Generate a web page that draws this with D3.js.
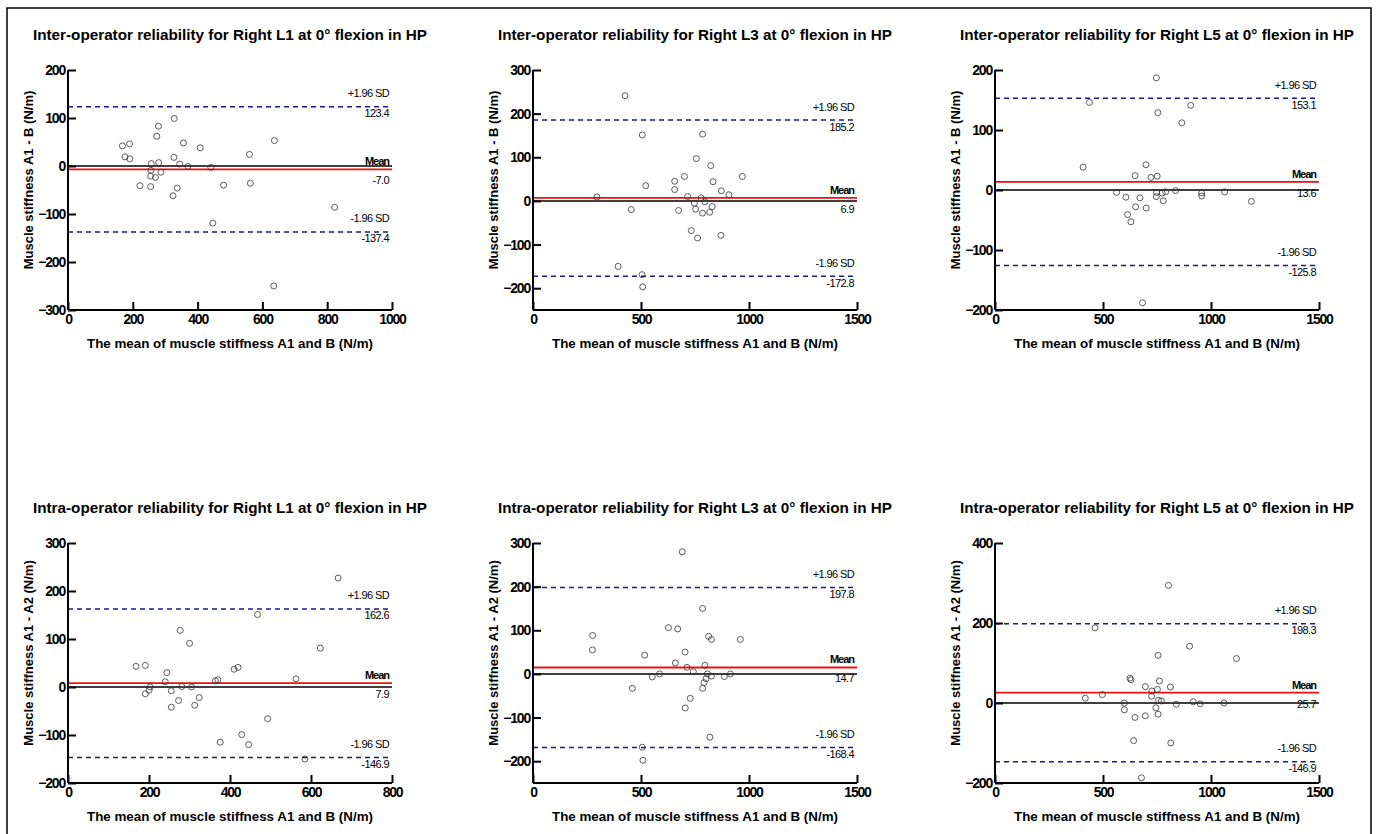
<!DOCTYPE html>
<html>
<head>
<meta charset="utf-8">
<script src="https://cdn.jsdelivr.net/npm/d3@7"></script>
<style>
  body { margin: 0; background: #fff; }
  text { font-family: "Liberation Sans", Arial, sans-serif; }
</style>
</head>
<body>
<div id="chart"></div>
<script>
// ---- data ----
const panelTitles = [
    "Inter-operator reliability for Right L1 at 0\u00b0 flexion in HP",
    "Inter-operator reliability for Right L3 at 0\u00b0 flexion in HP",
    "Inter-operator reliability for Right L5 at 0\u00b0 flexion in HP",
    "Intra-operator reliability for Right L1 at 0\u00b0 flexion in HP",
    "Intra-operator reliability for Right L3 at 0\u00b0 flexion in HP",
    "Intra-operator reliability for Right L5 at 0\u00b0 flexion in HP"
];
const yTitles = [
    "Muscle stiffness A1 - B (N/m)", "Muscle stiffness A1 - B (N/m)", "Muscle stiffness A1 - B (N/m)",
    "Muscle stiffness A1 - A2 (N/m)", "Muscle stiffness A1 - A2 (N/m)", "Muscle stiffness A1 - A2 (N/m)"
];
const xTitle = "The mean of muscle stiffness A1 and B  (N/m)";

const xDomains = [[0, 1000], [0, 1500], [0, 1500], [0, 800], [0, 1500], [0, 1500]];
const xTicks = [[0, 200, 400, 600, 800, 1000], [0, 500, 1000, 1500], [0, 500, 1000, 1500],
                [0, 200, 400, 600, 800], [0, 500, 1000, 1500], [0, 500, 1000, 1500]];
const yDomains = [[-300, 200], [-250, 300], [-200, 200], [-200, 300], [-250, 300], [-200, 400]];
const yTicks = [[-300, -200, -100, 0, 100, 200], [-200, -100, 0, 100, 200, 300], [-200, -100, 0, 100, 200],
                [-200, -100, 0, 100, 200, 300], [-200, -100, 0, 100, 200, 300], [-200, 0, 200, 400]];

const meanDiff = [-7.0, 6.9, 13.6, 7.9, 14.7, 25.7];
const upperLoA = [123.4, 185.2, 153.1, 162.6, 197.8, 198.3];
const lowerLoA = [-137.4, -172.8, -125.8, -146.9, -168.4, -146.9];

// inter-operator L1
const interL1Mean = [168, 190, 176, 191, 222, 257, 256, 255, 255, 270, 274, 279, 280, 287, 328,
                     327, 324, 337, 345, 356, 370, 408, 441, 447, 480, 560, 563, 637, 635, 823];
const interL1Diff = [42, 46, 19, 15, -41, 5, -9, -21, -43, -24, 62, 83, 7, -13, 99,
                     18, -62, -46, 4, 48, -1, 38, -3, -119, -40, 24, -36, 53, -250, -86];
// inter-operator L3
const interL3Mean = [426, 296, 506, 522, 455, 394, 505, 508, 656, 656, 701, 674, 716, 733, 747,
                     756, 753, 762, 778, 785, 785, 796, 818, 823, 829, 833, 870, 872, 907, 969];
const interL3Diff = [241, 9, 151, 35, -20, -150, -169, -197, 45, 26, 56, -22, 10, -68, -5,
                     97, -19, -85, 7, 153, -28, -2, -26, 81, -13, 44, -79, 23, 14, 56];
// inter-operator L5
const interL5Mean = [408, 437, 563, 606, 614, 629, 649, 651, 671, 699, 700, 683, 722, 747,
                     751, 754, 747, 748, 774, 779, 790, 836, 865, 906, 957, 957, 1063, 1187];
const interL5Diff = [38, 146, -4, -12, -41, -53, 24, -28, -13, 42, -30, -188, 21, 187,
                     23, 129, -11, -4, -5, -18, -3, -1, 112, 141, -10, -5, -3, -19];
// intra-operator L1
const intraL1Mean = [168, 191, 191, 200, 203, 244, 240, 255, 255, 273, 277, 281, 300, 305, 313,
                     324, 364, 370, 376, 410, 420, 429, 446, 468, 493, 563, 585, 623, 667];
const intraL1Diff = [43, 45, -14, -7, 0, 30, 11, -8, -42, -28, 118, 1, 91, 0, -38,
                     -22, 13, 15, -115, 37, 41, -99, -120, 151, -66, 17, -150, 81, 227];
// intra-operator L3
const intraL3Mean = [276, 275, 460, 506, 509, 517, 552, 586, 627, 659, 670, 691, 704, 705, 713,
                     728, 742, 785, 785, 792, 796, 801, 807, 813, 826, 826, 819, 886, 914, 960];
const intraL3Diff = [88, 55, -33, -168, -198, 43, -7, 0, 106, 25, 103, 280, 50, -78, 15,
                     -56, 5, 150, -33, -20, 20, -11, 0, 86, 79, -5, -145, -6, 0, 79];
// intra-operator L5
const intraL5Mean = [418, 463, 497, 599, 599, 625, 630, 642, 648, 678, 696, 696, 726, 725, 745,
                     755, 752, 761, 757, 755, 770, 803, 812, 814, 839, 901, 918, 950, 1060, 1118];
const intraL5Diff = [12, 188, 21, 0, -17, 62, 58, -94, -36, -187, 41, -32, 30, 17, -12,
                     119, 34, 55, 7, -28, 5, 294, 40, -100, -3, 142, 3, -2, 0, 111];

const pointMeans = [interL1Mean, interL3Mean, interL5Mean, intraL1Mean, intraL3Mean, intraL5Mean];
const pointDiffs = [interL1Diff, interL3Diff, interL5Diff, intraL1Diff, intraL3Diff, intraL5Diff];

// ---- layout ----
const width = 1376, height = 834;
const colLefts = [68, 533, 995];
const rowTops = [70, 543];
const plotW = 324, plotH = 240;

const svg = d3.select("#chart").append("svg")
    .attr("width", width)
    .attr("height", height);

// outer frame
svg.append("rect")
    .attr("x", 7).attr("y", 8)
    .attr("width", 1364).attr("height", 900)
    .attr("fill", "none")
    .attr("stroke", "#000")
    .attr("stroke-width", 1.5);

function drawPanel(i) {
    const left = colLefts[i % 3];
    const top = rowTops[Math.floor(i / 3)];
    const g = svg.append("g").attr("transform", "translate(" + left + "," + top + ")");

    const xScale = d3.scaleLinear().domain(xDomains[i]).range([0, plotW]);
    const yScale = d3.scaleLinear().domain(yDomains[i]).range([plotH, 0]);

    // title
    g.append("text")
        .attr("x", plotW / 2).attr("y", -30)
        .attr("text-anchor", "middle")
        .attr("font-size", 15).attr("font-weight", "bold")
        .attr("textLength", 394).attr("lengthAdjust", "spacingAndGlyphs")
        .text(panelTitles[i]);

    // reference lines (zero, mean, limits of agreement)
    const lines = g.append("g");
    lines.append("line")
        .attr("x1", 0).attr("x2", plotW)
        .attr("y1", yScale(0)).attr("y2", yScale(0))
        .attr("stroke", "#000").attr("stroke-width", 1.5);
    lines.append("line")
        .attr("x1", 0).attr("x2", plotW)
        .attr("y1", yScale(meanDiff[i])).attr("y2", yScale(meanDiff[i]))
        .attr("stroke", "#ee1111").attr("stroke-width", 1.8);
    [upperLoA[i], lowerLoA[i]].forEach(v => {
        lines.append("line")
            .attr("x1", 0).attr("x2", plotW)
            .attr("y1", yScale(v)).attr("y2", yScale(v))
            .attr("stroke", "#1a1a8c").attr("stroke-width", 1.5)
            .attr("stroke-dasharray", "5,4");
    });

    // annotations
    const ann = g.append("g")
        .attr("text-anchor", "end")
        .attr("font-size", 11);
    const ax = plotW - 3;
    const addNote = (y, txt, bold) => {
        ann.append("text")
            .attr("x", ax).attr("y", y)
            .attr("dy", "0.36em")
            .attr("font-weight", bold ? "bold" : "normal")
            .attr("letter-spacing", bold ? -1 : -0.6)
            .text(txt);
    };
    addNote(yScale(upperLoA[i]) - 13.5, "+1.96 SD");
    addNote(yScale(upperLoA[i]) + 6.5, upperLoA[i].toFixed(1));
    addNote(yScale(meanDiff[i]) - 8, "Mean", true);
    addNote(yScale(meanDiff[i]) + 11, meanDiff[i].toFixed(1));
    addNote(yScale(lowerLoA[i]) - 13.5, "-1.96 SD");
    addNote(yScale(lowerLoA[i]) + 6.5, lowerLoA[i].toFixed(1));

    // points
    const pts = d3.zip(pointMeans[i], pointDiffs[i]);
    g.append("g").selectAll("circle")
        .data(pts)
        .join("circle")
        .attr("cx", d => xScale(d[0]))
        .attr("cy", d => yScale(d[1]))
        .attr("r", 3)
        .attr("fill", "none")
        .attr("stroke", "#333")
        .attr("stroke-width", 0.8);

    // axes with inward ticks
    const xAxisG = g.append("g")
        .attr("transform", "translate(0," + plotH + ")")
        .call(d3.axisBottom(xScale).tickValues(xTicks[i]).tickSize(-8).tickPadding(4).tickFormat(d3.format("d")));
    const yAxisG = g.append("g")
        .call(d3.axisLeft(yScale).tickValues(yTicks[i]).tickSize(-8).tickPadding(3).tickFormat(d3.format("d")));

    [xAxisG, yAxisG].forEach(a => {
        a.select(".domain").attr("stroke", "#000").attr("stroke-width", 2);
        a.selectAll(".tick line").attr("stroke", "#000").attr("stroke-width", 2);
        a.selectAll(".tick text")
            .attr("fill", "#000")
            .attr("font-size", 14)
            .attr("font-weight", "bold")
            .attr("letter-spacing", -1.2)
            .style("font-family", "'Liberation Sans', Arial, sans-serif");
    });
    xAxisG.selectAll(".tick text").attr("y", 4).attr("dy", "0.71em");
    yAxisG.selectAll(".tick text").attr("x", -3);
    // plain domain lines without outer tick stubs
    xAxisG.select(".domain").attr("d", "M0,0H" + plotW);
    yAxisG.select(".domain").attr("d", "M0,0V" + plotH);

    // axis titles
    g.append("text")
        .attr("x", plotW / 2).attr("y", plotH + 33)
        .attr("dy", "0.36em")
        .attr("text-anchor", "middle")
        .attr("font-size", 13).attr("font-weight", "bold")
        .attr("textLength", 286).attr("lengthAdjust", "spacingAndGlyphs")
        .text(xTitle);
    g.append("text")
        .attr("transform", "translate(" + (-40) + "," + (plotH / 2 - 10) + ") rotate(-90)")
        .attr("dy", "0.36em")
        .attr("text-anchor", "middle")
        .attr("font-size", 13).attr("font-weight", "bold")
        .text(yTitles[i]);
}

panelTitles.forEach((t, i) => drawPanel(i));
</script>
</body>
</html>
